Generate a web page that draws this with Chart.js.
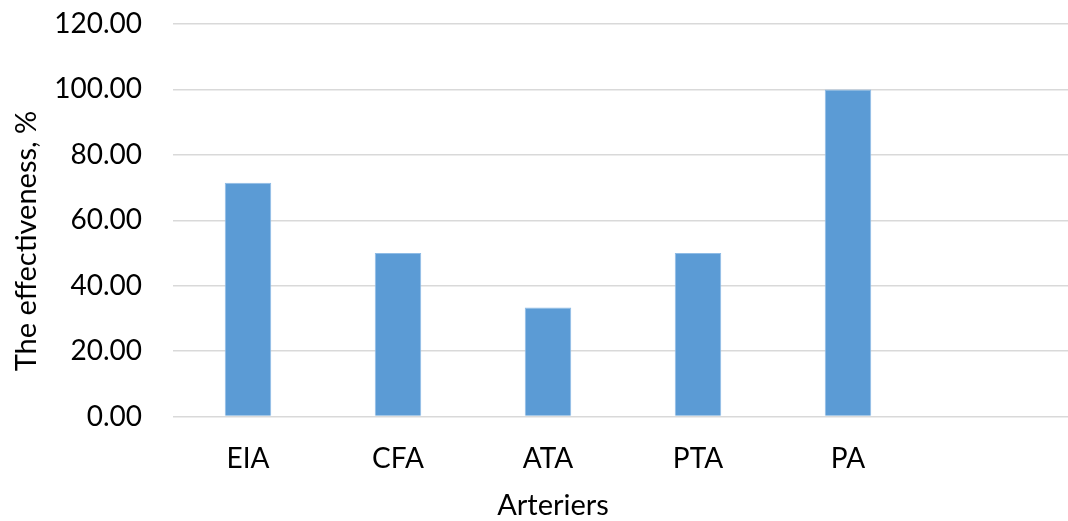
<!DOCTYPE html>
<html>
<head>
<meta charset="utf-8">
<script src="https://cdn.jsdelivr.net/npm/chart.js@4.4.1/dist/chart.umd.min.js"></script>
<style>
  html, body { margin: 0; padding: 0; background: #ffffff; overflow: hidden; }
  #wrap { width: 1068px; height: 521px; position: relative; overflow: hidden; }
  #chart { display: block; }
</style>
</head>
<body>
<div id="wrap"><canvas id="chart" width="1073" height="521"></canvas></div>
<script>
// Arteries (the last slot is left empty, as in the original layout)
const categories = ['EIA', 'CFA', 'ATA', 'PTA', 'PA', ''];
// Effectiveness per artery, %
const effectiveness = [71.43, 50.00, 33.33, 50.00, 100.00, null];
// Y-axis range
const yMin = 0;
const yMax = 120;
const yStep = 20;
// Axis titles
const xTitle = 'Arteriers';
const yTitle = 'The effectiveness, %';

const FONT = 'Lato, "Open Sans", sans-serif';

// Axis titles drawn at fixed spots around the plot
const axisTitles = {
  id: 'axisTitles',
  afterDraw(chart) {
    const ctx = chart.ctx;
    ctx.save();
    ctx.fillStyle = '#000';
    ctx.font = '29px ' + FONT;
    ctx.textAlign = 'center';
    ctx.textBaseline = 'middle';
    ctx.fillText(xTitle, 553, 506);
    ctx.translate(27, 241);
    ctx.rotate(-Math.PI / 2);
    ctx.fillText(yTitle, 0, 0);
    ctx.restore();
  }
};

new Chart(document.getElementById('chart'), {
  type: 'bar',
  data: {
    labels: categories,
    datasets: [{
      data: effectiveness,
      backgroundColor: '#5B9BD5',
      borderColor: '#8FBCE6',
      borderWidth: 1,
      barPercentage: 0.31,
      categoryPercentage: 1.0
    }]
  },
  options: {
    responsive: false,
    animation: false,
    layout: { padding: { top: 24, right: 0, left: 0, bottom: 0 } },
    plugins: { legend: { display: false }, tooltip: { enabled: false } },
    scales: {
      x: {
        grid: { display: false, drawTicks: false },
        border: { display: false },
        ticks: { color: '#000', font: { family: FONT, size: 28 }, padding: 26, maxRotation: 0, autoSkip: false },
        afterFit: (s) => { s.height = 104.5; s.paddingLeft = 0; s.paddingRight = 0; }
      },
      y: {
        min: yMin,
        max: yMax,
        grid: { color: '#D9D9D9', lineWidth: 1.5, drawTicks: false },
        border: { display: false },
        ticks: {
          stepSize: yStep,
          color: '#000',
          font: { family: FONT, size: 28 },
          padding: 31,
          callback: (v) => Number(v).toFixed(2)
        },
        afterFit: (s) => { s.width = 173; s.paddingTop = 0; s.paddingBottom = 0; }
      }
    }
  },
  plugins: [axisTitles]
});
</script>
</body>
</html>
